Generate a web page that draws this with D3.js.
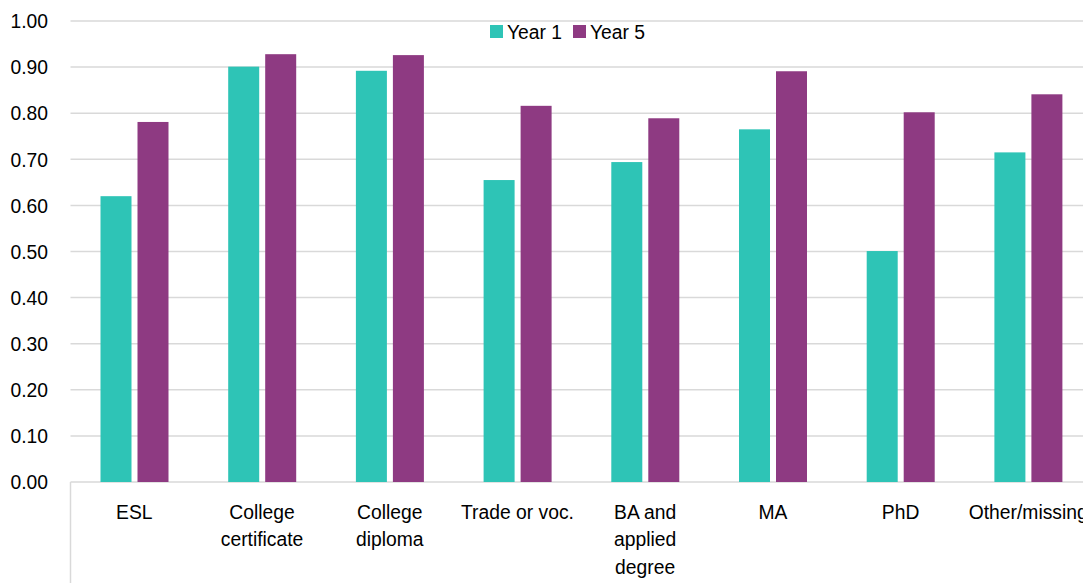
<!DOCTYPE html>
<html>
<head>
<meta charset="utf-8">
<script src="https://cdn.jsdelivr.net/npm/d3@7"></script>
<style>
  html, body { margin: 0; padding: 0; background: #ffffff; overflow: hidden; }
  svg { display: block; font-family: "Liberation Sans", Arial, sans-serif; }
</style>
</head>
<body>
<svg id="chart" width="1083" height="583"></svg>
<script>
const categories = ["ESL", "College certificate", "College diploma", "Trade or voc.", "BA and applied degree", "MA", "PhD", "Other/missing"];
const seriesNames = ["Year 1", "Year 5"];
const year1 = [0.620, 0.901, 0.892, 0.655, 0.694, 0.765, 0.501, 0.715];
const year5 = [0.781, 0.928, 0.926, 0.816, 0.789, 0.891, 0.802, 0.841];
const yTicks = [0, 0.1, 0.2, 0.3, 0.4, 0.5, 0.6, 0.7, 0.8, 0.9, 1.0];
const colors = ["#2EC4B6", "#8E3A82"];

const seriesValues = [year1, year5];
const rows = categories.map((c, i) => ({ cat: c, vals: seriesNames.map((s, j) => ({ s, v: seriesValues[j][i] })) }));

const FS = 21, SX = 0.92;
const svg = d3.select("#chart");
const plotLeft = 70.5, band = 127.7, plotTop = 21, plotBottom = 482;
const plotRight = plotLeft + band * categories.length;

const x0 = d3.scaleBand().domain(categories).range([plotLeft, plotRight]).padding(0);
const x1 = d3.scaleBand().domain(seriesNames).range([30, 98]).paddingInner(6 / 37).paddingOuter(0);
const y = d3.scaleLinear().domain([0, 1]).range([plotBottom, plotTop]);
const color = d3.scaleOrdinal().domain(seriesNames).range(colors);

// gridlines
svg.append("g").selectAll("line").data(yTicks).join("line")
  .attr("x1", plotLeft).attr("x2", plotRight)
  .attr("y1", d => y(d)).attr("y2", d => y(d))
  .attr("stroke", "#d9d9d9").attr("stroke-width", 1.5);

// left vertical line in the category label area
svg.append("line")
  .attr("x1", plotLeft).attr("x2", plotLeft)
  .attr("y1", plotBottom).attr("y2", 583)
  .attr("stroke", "#d9d9d9").attr("stroke-width", 1.5);

// bars
const groups = svg.append("g").selectAll("g").data(rows).join("g")
  .attr("transform", d => `translate(${x0(d.cat)},0)`);
groups.selectAll("rect").data(d => d.vals).join("rect")
  .attr("x", d => x1(d.s))
  .attr("width", x1.bandwidth())
  .attr("y", d => y(d.v))
  .attr("height", d => y(0) - y(d.v))
  .attr("fill", d => color(d.s));

// y axis
const yAxis = svg.append("g")
  .attr("transform", `translate(${plotLeft},0)`)
  .call(d3.axisLeft(y).tickValues(yTicks).tickFormat(d3.format(".2f")).tickSize(0).tickPadding(24.5));
yAxis.select(".domain").remove();
yAxis.selectAll("text")
  .attr("font-size", FS).attr("fill", "#000")
  .attr("font-family", "Liberation Sans, Arial, sans-serif")
  .attr("transform", `scale(${SX},1)`);

// x axis
const xAxis = svg.append("g")
  .attr("transform", `translate(0,${plotBottom})`)
  .call(d3.axisBottom(x0).tickSize(0).tickPadding(0));
xAxis.select(".domain").remove();

function wrap(textSel, width) {
  textSel.each(function () {
    const text = d3.select(this);
    const words = text.text().split(/\s+/);
    text.text(null);
    let line = [];
    let lineNo = 0;
    let tspan = text.append("tspan").attr("x", 0).attr("y", 37);
    words.forEach(w => {
      line.push(w);
      tspan.text(line.join(" "));
      if (tspan.node().getComputedTextLength() > width && line.length > 1) {
        line.pop();
        tspan.text(line.join(" "));
        line = [w];
        lineNo++;
        tspan = text.append("tspan").attr("x", 0).attr("y", 37 + lineNo * 27.5).text(w);
      }
    });
  });
}
xAxis.selectAll("text")
  .attr("font-size", FS).attr("fill", "#000")
  .attr("font-family", "Liberation Sans, Arial, sans-serif")
  .attr("dy", null)
  .attr("transform", `scale(${SX},1)`)
  .call(wrap, 132);

// legend
const legend = svg.append("g");
const legendX = [490, 573];
seriesNames.forEach((s, i) => {
  legend.append("rect").attr("x", legendX[i]).attr("y", 25).attr("width", 13).attr("height", 13).attr("fill", color(s));
  legend.append("text")
    .attr("transform", `translate(${legendX[i] + 17},39) scale(${SX},1)`)
    .attr("font-size", FS).attr("fill", "#000").text(s);
});
</script>
</body>
</html>
